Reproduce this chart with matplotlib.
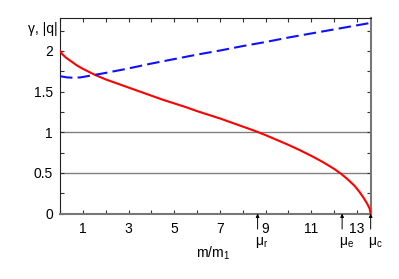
import matplotlib
matplotlib.use("Agg")
import matplotlib.pyplot as plt
from matplotlib.ticker import MultipleLocator

plt.rcParams["font.family"] = ["Liberation Sans", "DejaVu Sans"]
plt.rcParams["mathtext.fontset"] = "custom"
plt.rcParams["mathtext.rm"] = "Liberation Sans"
plt.rcParams["mathtext.it"] = "Liberation Sans"

# ── données ───────────────────────────────────────────────────────────────────
gamma_x = [0.0, 0.1, 0.25, 0.5, 0.75, 1.0, 1.5, 2.0, 2.5, 3.0, 3.5, 4.0, 4.5,
           5.0, 5.5, 6.0, 6.5, 7.0, 7.5, 8.0, 8.5, 9.0, 9.5, 10.0, 10.5, 11.0,
           11.5, 12.0, 12.3, 12.6, 12.9, 13.1, 13.3, 13.45, 13.55, 13.6]
gamma_y = [2.00, 1.96, 1.92, 1.87, 1.82, 1.78, 1.71, 1.65, 1.60, 1.55, 1.50,
           1.45, 1.40, 1.355, 1.31, 1.26, 1.215, 1.17, 1.12, 1.07, 1.02, 0.965,
           0.905, 0.845, 0.78, 0.71, 0.635, 0.55, 0.49, 0.42, 0.34, 0.27,
           0.19, 0.12, 0.065, 0.0]

q_x = [0.0, 0.3, 0.6, 0.9, 1.2, 1.5, 2.0, 3.0, 4.0, 5.0, 6.0, 7.0, 8.0, 9.0,
       10.0, 11.0, 12.0, 13.0, 13.6]
q_y = [1.69, 1.675, 1.67, 1.675, 1.69, 1.705, 1.73, 1.785, 1.845, 1.90, 1.955,
       2.005, 2.06, 2.11, 2.165, 2.215, 2.265, 2.315, 2.345]

mu_names = [r"$\mathregular{\mu_r}$", r"$\mathregular{\mu_e}$", r"$\mathregular{\mu_c}$"]
mu_vals = [8.65, 12.35, 13.6]

x_ticks = [1, 3, 5, 7, 9, 11, 13]
y_ticks = [0, 0.5, 1, 1.5, 2]
y_ticklabels = ["0", "0.5", "1", "1.5", "2"]
grid_levels = [0.5, 1.0]

# ── figure ────────────────────────────────────────────────────────────────────
fig = plt.figure(figsize=(3.99, 2.79), dpi=100)
ax = fig.add_axes([0.1504, 0.2344, 0.7786, 0.6996])

for g in grid_levels:
    ax.axhline(g, color="#808080", linewidth=1.0, zorder=1)

ax.plot(gamma_x, gamma_y, color="#ff0000", linewidth=1.5, zorder=3)
ax.plot(q_x, q_y, color="#1010ff", linewidth=1.5, dashes=(6, 2.5), zorder=3)

ax.set_xlim(0, 13.6)
ax.set_ylim(0, 2.4)

ax.set_xticks(x_ticks)
ax.xaxis.set_minor_locator(MultipleLocator(1))
ax.set_yticks(y_ticks)
ax.set_yticklabels(y_ticklabels)
ax.yaxis.set_minor_locator(MultipleLocator(0.25))
ax.tick_params(which="both", direction="in", top=True, right=True,
               length=3, width=0.8, labelsize=10, color="#333333")
ax.tick_params(axis="x", pad=6)
ax.tick_params(axis="y", pad=5)

for side in ["left", "top"]:
    ax.spines[side].set_linewidth(0.8)
    ax.spines[side].set_color("#222222")
for side in ["bottom", "right"]:
    ax.spines[side].set_linewidth(1.5)
    ax.spines[side].set_color("#777777")

# flèches μ sous l'axe
for name, v in zip(mu_names, mu_vals):
    ax.annotate("", xy=(v, 0), xytext=(v, -0.19),
                arrowprops=dict(arrowstyle="-|>", color="black", lw=0.7,
                                mutation_scale=5, shrinkA=0, shrinkB=0),
                annotation_clip=False)
    ax.text(v - 0.12, -0.35, name, ha="left", va="center", fontsize=10,
            clip_on=False)

ax.text(-0.11, 2.27, r"γ, |q|", ha="right", va="center", fontsize=10,
        clip_on=False)
fig.text(213 / 399, 1 - 253 / 279, r"m/m$\mathregular{_1}$", ha="center",
         va="center", fontsize=10)

plt.savefig("out.png", dpi=100, facecolor="white")
plt.close()
